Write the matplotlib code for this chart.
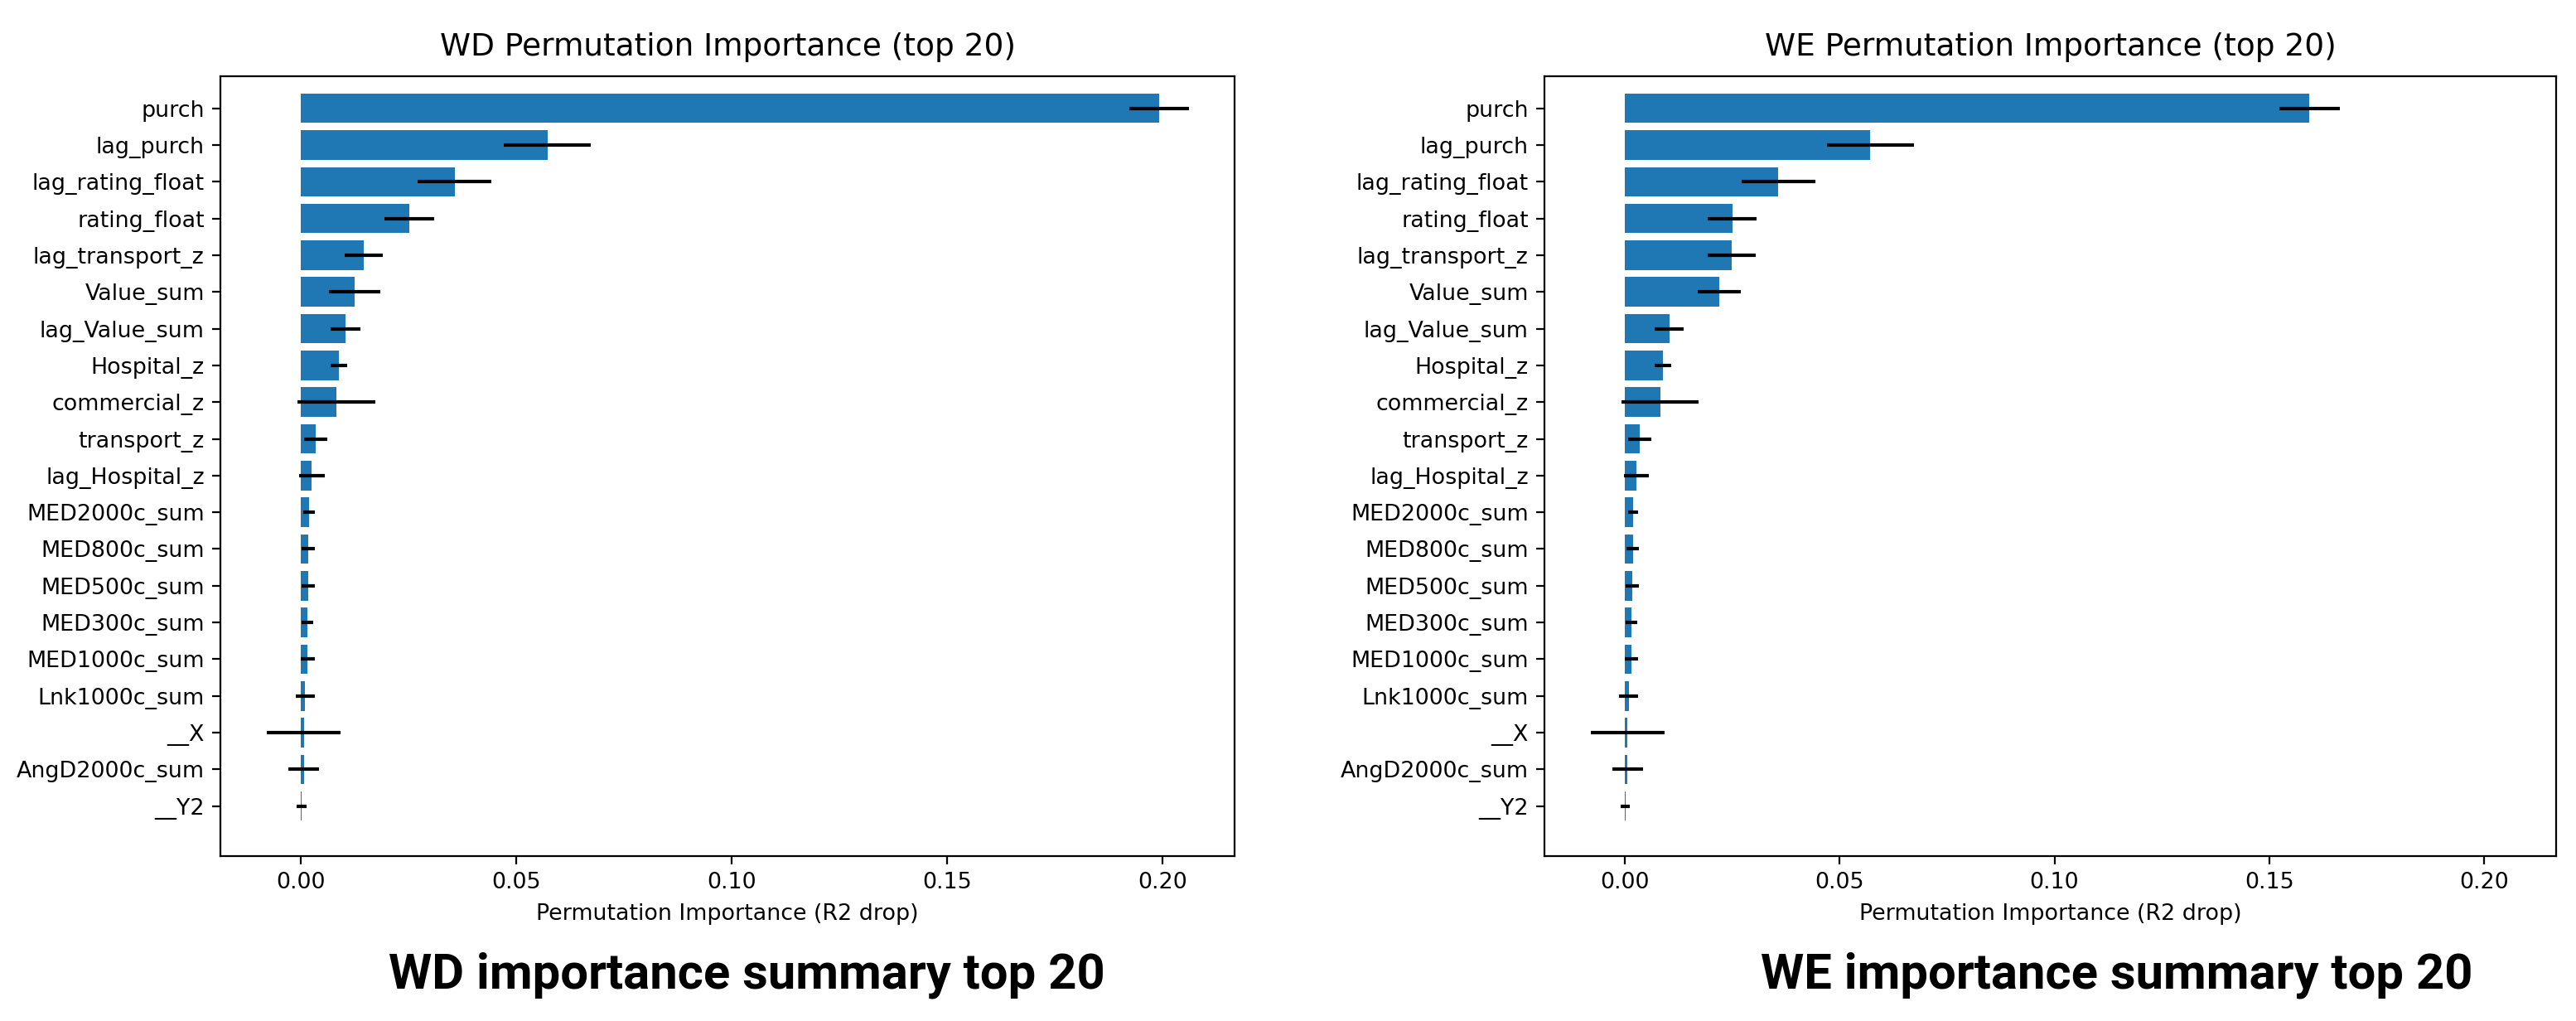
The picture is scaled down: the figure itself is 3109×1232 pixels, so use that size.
import numpy as np
import matplotlib
matplotlib.use("Agg")
import matplotlib.pyplot as plt

features = ["purch", "lag_purch", "lag_rating_float", "rating_float", "lag_transport_z",
            "Value_sum", "lag_Value_sum", "Hospital_z", "commercial_z", "transport_z",
            "lag_Hospital_z", "MED2000c_sum", "MED800c_sum", "MED500c_sum", "MED300c_sum",
            "MED1000c_sum", "Lnk1000c_sum", "__X", "AngD2000c_sum", "__Y2"]

# WD (weekday) permutation importance: mean and std of R2 drop
wd_mean = [0.1991, 0.0573, 0.0357, 0.0252, 0.0147, 0.0125, 0.0104, 0.0089, 0.0083, 0.0034,
           0.0026, 0.0019, 0.0018, 0.0017, 0.0016, 0.0016, 0.0010, 0.0007, 0.0007, 0.0002]
wd_std = [0.0069, 0.0101, 0.0086, 0.0057, 0.0044, 0.0060, 0.0034, 0.0019, 0.0090, 0.0027,
          0.0030, 0.0013, 0.0015, 0.0015, 0.0014, 0.0016, 0.0022, 0.0086, 0.0036, 0.0011]

# WE (weekend)
we_mean = [0.1593, 0.0572, 0.0358, 0.0251, 0.0250, 0.0220, 0.0104, 0.0089, 0.0083, 0.0035,
           0.0027, 0.0020, 0.0019, 0.0018, 0.0016, 0.0016, 0.0010, 0.0007, 0.0007, 0.0002]
we_std = [0.0070, 0.0101, 0.0086, 0.0057, 0.0056, 0.0050, 0.0033, 0.0019, 0.0090, 0.0027,
          0.0029, 0.0012, 0.0015, 0.0015, 0.0013, 0.0016, 0.0022, 0.0086, 0.0036, 0.0011]

panels = [("WD", wd_mean, wd_std), ("WE", we_mean, we_std)]

plt.rcParams['font.family'] = ['DejaVu Sans']
plt.rcParams['font.size'] = 9.7

fig = plt.figure(figsize=(15.545, 6.16), dpi=200)
ax_left = fig.add_axes([0.0856, 0.1615, 0.3937, 0.7638])
ax_right = fig.add_axes([0.5996, 0.1615, 0.3927, 0.7638], sharex=ax_left)
caption_x = [0.2898, 0.8218]

for ax, (name, mean, std), cx in zip([ax_left, ax_right], panels, caption_x):
    y = np.arange(len(features))[::-1]
    ax.barh(y, mean, xerr=std, color='#1f77b4', ecolor='black')
    ax.set_yticks(y)
    ax.set_yticklabels(features)
    ax.set_ylim(-1.36, len(features) - 1 + 0.87)
    ax.set_xlabel('Permutation Importance (R2 drop)')
    ax.set_title(f'{name} Permutation Importance (top 20)', fontsize=13.5, pad=9)
    ax.tick_params(axis='x', labelbottom=True)
    fig.text(cx, 0.045, f'{name} importance summary top 20', ha='center', va='center',
             fontsize=21.5, fontweight='bold', family=['Roboto', 'DejaVu Sans'])

fig.savefig('out.png', dpi=200)
